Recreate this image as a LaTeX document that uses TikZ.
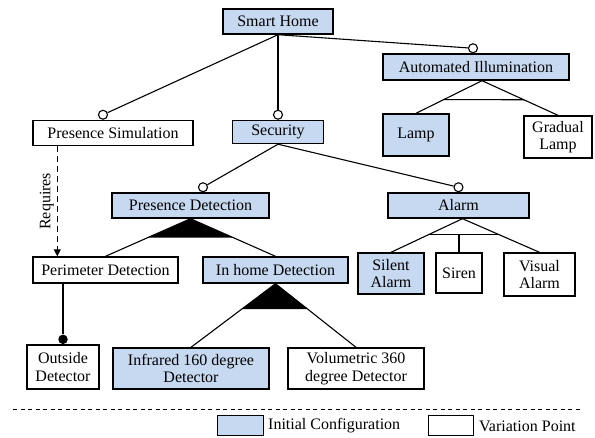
\documentclass[tikz,border=0pt]{standalone}
\usepackage{fontspec}
\setmainfont{Liberation Serif}
\usetikzlibrary{arrows.meta, positioning, calc}
\definecolor{cfgblue}{RGB}{198,217,240}

\begin{document}
\begin{tikzpicture}[
    x=1pt, y=-1pt,
    font=\fontsize{16}{17.5}\selectfont,
    % Feature Box Style (variation point)
    feat/.style={draw=black, rectangle, fill=white, line width=1.4pt, inner sep=2pt, align=center},
    % Initial Configuration Style
    init/.style={feat, fill=cfgblue},
    % Optional Feature Marker
    opt/.style={draw=black, circle, fill=white, line width=1.1pt, minimum size=9pt, inner sep=0pt},
    % Mandatory Feature Marker
    mand/.style={fill=black, circle, minimum size=9.5pt, inner sep=0pt},
    % Tree Connector Style
    link/.style={line width=1.1pt},
    % Requires Constraint Style
    req/.style={line width=1.2pt, dash pattern=on 6pt off 4pt, -{Triangle[length=7pt, width=7pt]}}
]
\useasboundingbox (0,0) rectangle (595,437);

% ================= Nodes =================

% 1. Root and first level
\node[init, minimum width=110pt, minimum height=25pt] (home) at (278,21.5) {Smart Home};
\node[feat, minimum width=160pt, minimum height=25pt] (sim) at (113,133) {Presence Simulation};
\node[init, minimum width=91pt, minimum height=23pt] (sec) at (278,132) {Security};
\node[init, minimum width=186pt, minimum height=26pt] (ai) at (476,67) {Automated Illumination};

% 2. Illumination children
\node[init, minimum width=66pt, minimum height=42pt] (lamp) at (416,135) {Lamp};
\node[feat, minimum width=68pt, minimum height=42pt] (gr) at (558,137) {Gradual\\Lamp};

% 3. Security children
\node[init, minimum width=157pt, minimum height=25pt] (pd) at (190.5,205.5) {Presence Detection};
\node[init, minimum width=141pt, minimum height=25pt] (alarm) at (458.5,205.5) {Alarm};

% 4. Detection level
\node[feat, minimum width=145pt, minimum height=26pt] (per) at (105.5,270) {Perimeter Detection};
\node[init, minimum width=145pt, minimum height=26pt] (inh) at (275.5,270) {In home Detection};

% 5. Alarm children
\node[init, minimum width=66pt, minimum height=41pt] (silent) at (391,273.5) {Silent\\Alarm};
\node[feat, minimum width=46pt, minimum height=40pt] (siren) at (459,273) {Siren};
\node[feat, minimum width=71pt, minimum height=43pt] (visual) at (539.5,274.5) {Visual\\Alarm};

% 6. Detectors
\node[feat, minimum width=72pt, minimum height=44pt] (outside) at (63,367) {Outside\\Detector};
\node[init, minimum width=156pt, minimum height=41pt] (ir) at (191,368.5) {Infrared 160 degree\\Detector};
\node[feat, minimum width=136pt, minimum height=41pt] (vol) at (356,368.5) {Volumetric 360\\degree Detector};

% 7. Markers
\node[opt, anchor=south] (o_sim) at ($(sim.north)+(-10,0)$) {};
\node[opt, anchor=south] (o_sec) at (sec.north) {};
\node[opt, anchor=south] (o_ai) at ($(ai.north)+(-3,0)$) {};
\node[opt, anchor=south] (o_pd) at ($(pd.north)+(12.5,0)$) {};
\node[opt, anchor=south] (o_alarm) at (alarm.north) {};
\node[mand, anchor=south] (m_out) at (outside.north) {};

% 8. Legend
\coordinate (sep_l) at (13,409);
\coordinate (sep_r) at (580,409);
\node[init, minimum width=46pt, minimum height=20pt] (leg_init) at (240.5,425.5) {};
\node[anchor=west, inner sep=1pt] (leg_init_t) at (267,426) {Initial Configuration};
\node[feat, minimum width=45pt, minimum height=20pt] (leg_var) at (451,425.5) {};
\node[anchor=west, inner sep=1pt] (leg_var_t) at (478,426) {Variation Point};

% ================= Connections =================

% Optional features
\draw[link] (home.south) -- (o_sim);
\draw[link] (home.south) -- (o_sec);
\draw[link] (home.south) -- (o_ai);
\draw[link] (sec.south) -- (o_pd);
\draw[link] (sec.south) -- (o_alarm);

% Mandatory feature
\draw[link] (per.south -| m_out) -- (m_out);

% Alternative group: illumination
\coordinate (ai_apex) at ($(ai.south)+(6,0)$);
\draw[link] (ai_apex) -- (lamp.north);
\draw[link] (ai_apex) -- (gr.north);
\draw[link] ($(ai_apex)!0.58!(lamp.north)$) -- ($(ai_apex)!0.55!(gr.north)$);

% Alternative group: alarm
\coordinate (al_apex) at ($(alarm.south)+(4,0)$);
\coordinate (al_l) at ($(al_apex)!0.46!(silent.north)$);
\coordinate (al_r) at ($(al_apex)!0.46!(visual.north)$);
\draw[link] (al_apex) -- (silent.north);
\draw[link] (al_apex) -- (visual.north);
\draw[link] (al_l) -- (al_r);
\draw[link] (siren.north) -- (siren.north |- al_l);

% Or group: presence detection
\fill (pd.south) -- ($(pd.south)!0.5!(per.north)$) -- ($(pd.south)!0.5!(inh.north)$) -- cycle;
\draw[link] (pd.south) -- (per.north);
\draw[link] (pd.south) -- (inh.north);

% Or group: in home detection
\fill (inh.south) -- ($(inh.south)!0.4!(ir.north)$) -- ($(inh.south)!0.4!(vol.north)$) -- cycle;
\draw[link] (inh.south) -- (ir.north);
\draw[link] (inh.south) -- (vol.north);

% Requires constraint
\draw[req] ($(sim.south west)+(25,0)$) -- node[midway, rotate=90, anchor=south, inner sep=3pt] {Requires} ($(per.north west)+(25,0)$);

% Legend separator
\draw[line width=0.9pt, dash pattern=on 4pt off 3.5pt] (sep_l) -- (sep_r);

\end{tikzpicture}
\end{document}
